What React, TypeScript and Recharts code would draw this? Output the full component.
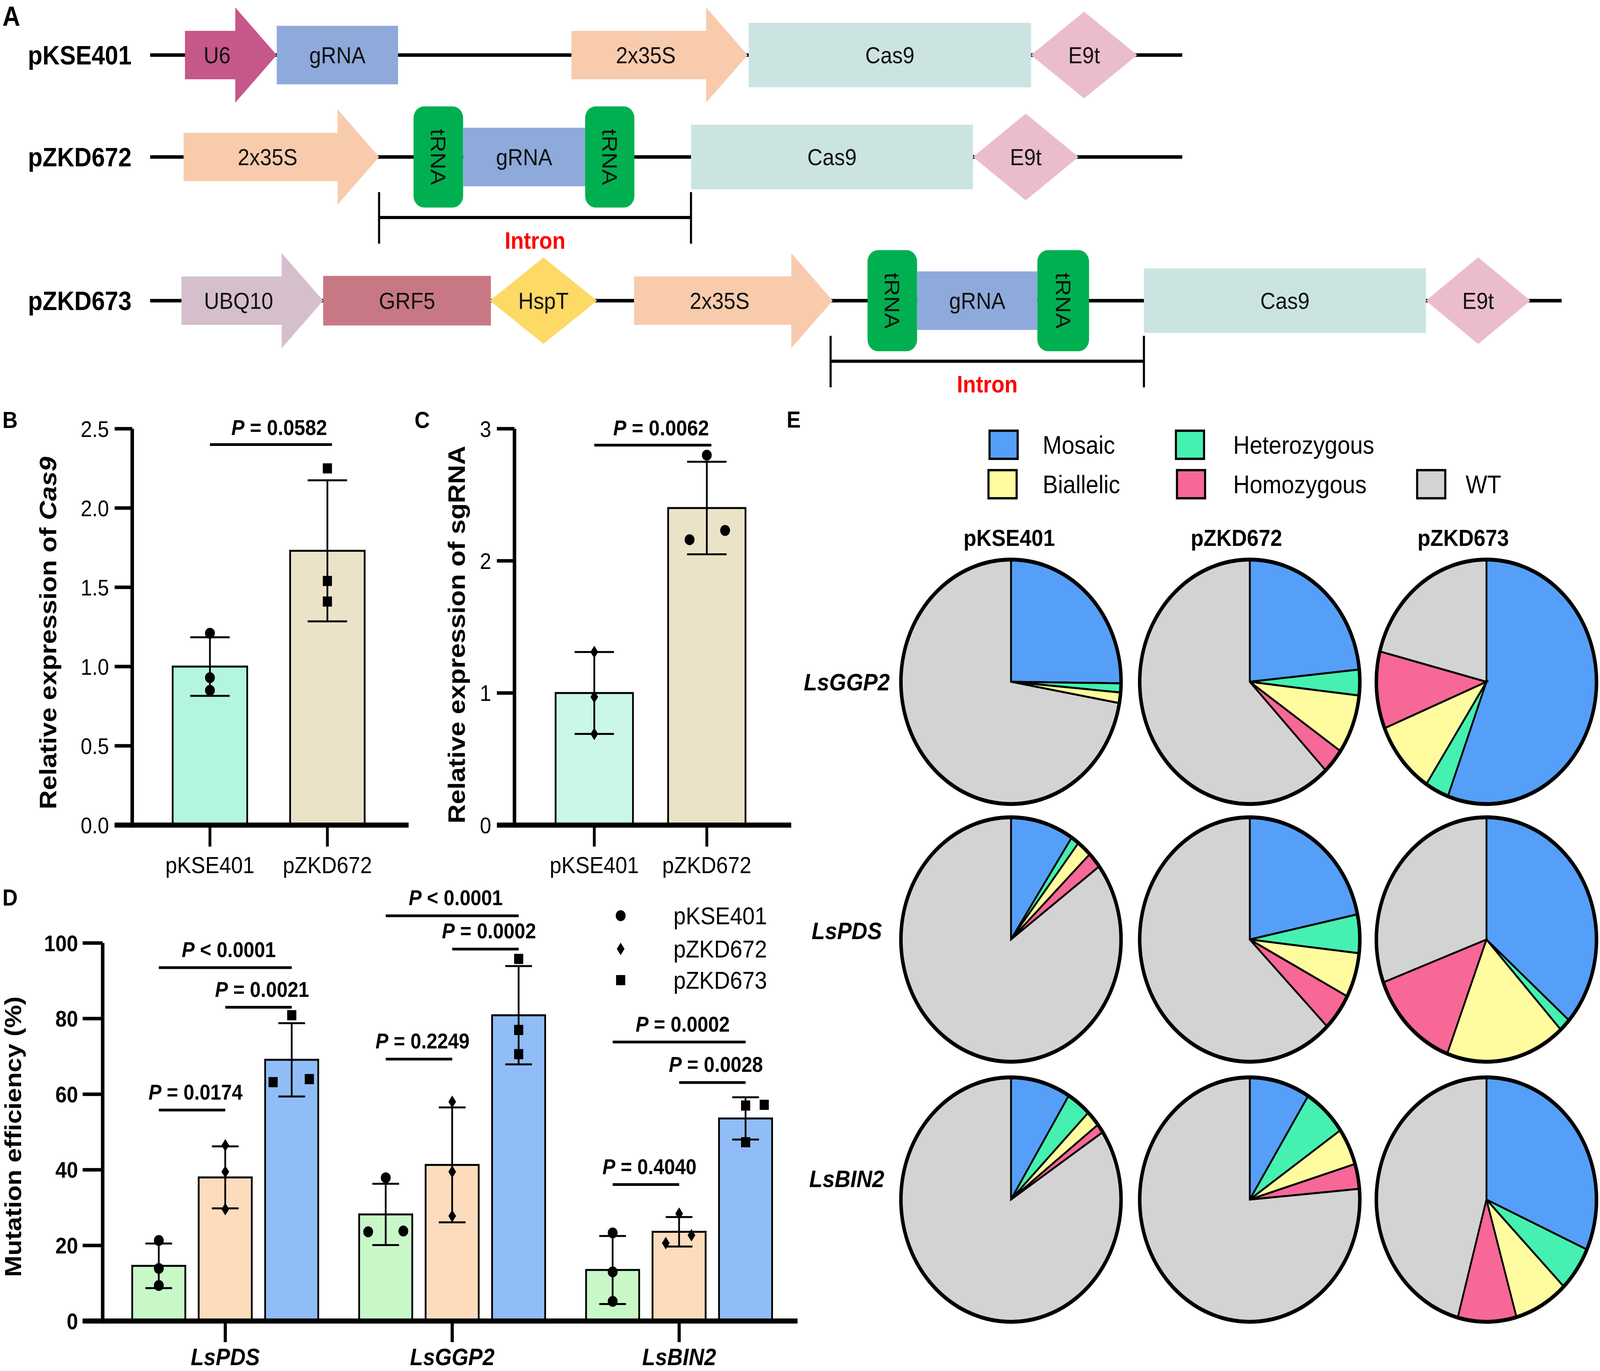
import React from "react";
import {
  ComposedChart,
  Bar,
  Line,
  XAxis,
  YAxis,
  ErrorBar,
  Scatter,
  Cell,
  ReferenceLine,
  ReferenceArea,
  PieChart,
  Pie,
} from "recharts";

const FONT = "Arial, 'Liberation Sans', Helvetica, sans-serif";
const PAGE_W = 4550;
const PAGE_H = 3511;

// ---------- A: vector maps (positions along each construct) ----------
const constructNames = ["pKSE401", "pZKD672", "pZKD673"];
const constructLengths = [2935, 2935, 4014];
const pKSE401Parts: [string, number, number][] = [
  ["U6", 99, 360],
  ["gRNA", 360, 705],
  ["2x35S", 1198, 1699],
  ["Cas9", 1702, 2505],
  ["E9t", 2505, 2807],
];
const pZKD672Parts: [string, number, number][] = [
  ["2x35S", 95, 651],
  ["tRNA", 749, 890],
  ["gRNA", 890, 1237],
  ["tRNA", 1237, 1377],
  ["Cas9", 1538, 2340],
  ["E9t", 2340, 2640],
];
const pZKD673Parts: [string, number, number][] = [
  ["UBQ10", 89, 492],
  ["GRF5", 492, 969],
  ["HspT", 966, 1271],
  ["2x35S", 1376, 1941],
  ["tRNA", 2040, 2181],
  ["gRNA", 2181, 2523],
  ["tRNA", 2523, 2670],
  ["Cas9", 2826, 3628],
  ["E9t", 3628, 3925],
];
const intronSpans: ([number, number] | null)[] = [null, [651, 1538], [1935, 2826]];

// ---------- B / C: qPCR ----------
const exprGroups = ["pKSE401", "pZKD672"];
const cas9Mean = [1.0, 1.73];
const cas9Sd = [0.185, 0.445];
const cas9Rep1 = [1.21, 2.25];
const cas9Rep2 = [0.93, 1.54];
const cas9Rep3 = [0.85, 1.41];
const cas9Ticks = [0, 0.5, 1.0, 1.5, 2.0, 2.5];

const sgMean = [1.0, 2.4];
const sgSd = [0.31, 0.35];
const sgRep1 = [1.31, 2.8];
const sgRep2 = [0.97, 2.16];
const sgRep3 = [0.69, 2.23];
const sgTicks = [0, 1, 2, 3];

// ---------- D: mutation efficiency ----------
const genes = ["LsPDS", "LsGGP2", "LsBIN2"];
const constructs = ["pKSE401", "pZKD672", "pZKD673"];
const mutMean: Record<string, number[]> = {
  pKSE401: [14.6, 28.2, 13.5],
  pZKD672: [38.0, 41.3, 23.6],
  pZKD673: [69.1, 80.9, 53.6],
};
const mutSd: Record<string, number[]> = {
  pKSE401: [5.9, 8.1, 9.0],
  pZKD672: [8.2, 15.2, 3.9],
  pZKD673: [9.7, 13.0, 5.6],
};
const mutRep1: Record<string, number[]> = {
  pKSE401: [21.3, 37.9, 23.3],
  pZKD672: [46.5, 58.0, 28.4],
  pZKD673: [80.9, 95.8, 57.0],
};
const mutRep2: Record<string, number[]> = {
  pKSE401: [13.9, 23.6, 13.0],
  pZKD672: [39.5, 39.5, 20.6],
  pZKD673: [63.2, 77.0, 57.2],
};
const mutRep3: Record<string, number[]> = {
  pKSE401: [9.4, 23.8, 5.2],
  pZKD672: [29.6, 27.8, 22.7],
  pZKD673: [64.0, 70.6, 47.3],
};
const mutTicks = [0, 20, 40, 60, 80, 100];
// [gene, from construct, to construct, y, p text]
const mutPvals: [string, number, number, number, string][] = [
  ["LsPDS", 0, 2, 93.5, "< 0.0001"],
  ["LsPDS", 1, 2, 83.0, "= 0.0021"],
  ["LsPDS", 0, 1, 55.8, "= 0.0174"],
  ["LsGGP2", 0, 2, 107.2, "< 0.0001"],
  ["LsGGP2", 1, 2, 98.4, "= 0.0002"],
  ["LsGGP2", 0, 1, 69.3, "= 0.2249"],
  ["LsBIN2", 0, 2, 73.8, "= 0.0002"],
  ["LsBIN2", 1, 2, 63.1, "= 0.0028"],
  ["LsBIN2", 0, 1, 36.1, "= 0.4040"],
];

// ---------- E: genotype shares (%) ----------
const genotypeNames = ["Mosaic", "Heterozygous", "Biallelic", "Homozygous", "WT"];
const pieGenes = ["LsGGP2", "LsPDS", "LsBIN2"];
const ggp2_pKSE401 = [25.2, 1.2, 1.4, 0, 72.2];
const ggp2_pZKD672 = [23.4, 3.4, 7.8, 3.3, 62.1];
const ggp2_pZKD673 = [55.7, 3.5, 9.6, 10.2, 21.0];
const pds_pKSE401 = [9.3, 1.2, 2.2, 2.1, 85.2];
const pds_pZKD672 = [21.7, 5.1, 5.9, 4.9, 62.4];
const pds_pZKD673 = [36.5, 1.7, 17.6, 13.5, 30.7];
const bin2_pKSE401 = [8.8, 3.6, 2.1, 1.2, 84.3];
const bin2_pZKD672 = [8.9, 6.5, 4.9, 3.3, 76.4];
const bin2_pZKD673 = [31.7, 5.9, 8.0, 8.6, 45.8];
const pieTable = [
  [ggp2_pKSE401, ggp2_pZKD672, ggp2_pZKD673],
  [pds_pKSE401, pds_pZKD672, pds_pZKD673],
  [bin2_pKSE401, bin2_pZKD672, bin2_pZKD673],
];

// ---------- styles ----------
const partStyle: Record<string, { shape: string; fill: string; h: number }> = {
  U6: { shape: "arrow", fill: "#c5578a", h: 244 },
  "2x35S": { shape: "arrow", fill: "#f8cbad", h: 244 },
  UBQ10: { shape: "arrow", fill: "#d5bfcd", h: 244 },
  gRNA: { shape: "box", fill: "#8eaadb", h: 150 },
  Cas9: { shape: "box", fill: "#cbe4e2", h: 165 },
  GRF5: { shape: "box", fill: "#c87884", h: 127 },
  E9t: { shape: "diamond", fill: "#ebbccc", h: 222 },
  HspT: { shape: "diamond", fill: "#fdd966", h: 221 },
  tRNA: { shape: "trna", fill: "#00b050", h: 259 },
};
const trackLayout = [
  { top: 0, height: 282 },
  { top: 142, height: 520 },
  { top: 520, height: 500 },
];
const genotypeColors: Record<string, string> = {
  Mosaic: "#559ff8",
  Heterozygous: "#45f0b0",
  Biallelic: "#fffca0",
  Homozygous: "#f76896",
  WT: "#d3d3d3",
};
const mutColors: Record<string, string> = {
  pKSE401: "#c8f8c8",
  pZKD672: "#fcdcbc",
  pZKD673: "#90bdf7",
};
const mutMarkers: Record<string, string> = {
  pKSE401: "circle",
  pZKD672: "diamond",
  pZKD673: "square",
};
// horizontal jitter (px) of replicate dots
const mutJitter: Record<string, number[][]> = {
  pKSE401: [[0, 0, 0], [0, -50, 50], [0, 0, 0]],
  pZKD672: [[0, 0, 0], [0, 0, 0], [0, -38, 35]],
  pZKD673: [[0, -53, 50], [0, 0, 0], [0, 53, 0]],
};
const BAR_PITCH = 189;

function Marker({ cx, cy, kind }: { cx: number; cy: number; kind: string }) {
  if (cx == null || cy == null || isNaN(cx) || isNaN(cy)) return null;
  if (kind === "square")
    return <rect x={cx - 13} y={cy - 13} width={26} height={26} fill="#000" />;
  if (kind === "diamond")
    return (
      <polygon
        points={`${cx},${cy - 16} ${cx + 11},${cy} ${cx},${cy + 16} ${cx - 11},${cy}`}
        fill="#000"
      />
    );
  return <circle cx={cx} cy={cy} r={14} fill="#000" />;
}

function PText({ x, y, text, size }: { x: number; y: number; text: string; size: number }) {
  return (
    <text x={x} y={y} textAnchor="middle" fontSize={size} fontWeight={700} fill="#000">
      <tspan fontStyle="italic">P</tspan>
      <tspan>{" " + text}</tspan>
    </text>
  );
}

// x axis line continues left to where the y ticks start
const axisStub = (len: number) => (p: any) => (
  <line x1={p.x1 - len} y1={p.y1} x2={p.x1 + 5} y2={p.y1} stroke="#000" strokeWidth={13} />
);

// ---------- A ----------
function drawPart(p: any, name: string) {
  const st = partStyle[name];
  const { x, width } = p;
  const cy = p.y + p.height / 2;
  const label = (tx: number) => (
    <text x={tx} y={cy} dy="0.35em" textAnchor="middle" fontSize={60} fill="#111">
      {name}
    </text>
  );
  if (st.shape === "arrow") {
    const head = 118;
    const body = 124;
    const hx = x + width - head;
    const pts = [
      [x, cy - body / 2],
      [hx, cy - body / 2],
      [hx, cy - st.h / 2],
      [x + width, cy],
      [hx, cy + st.h / 2],
      [hx, cy + body / 2],
      [x, cy + body / 2],
    ]
      .map((q) => q.join(","))
      .join(" ");
    return (
      <g>
        <polygon points={pts} fill={st.fill} />
        {label(x + (width - head) / 2 + 20)}
      </g>
    );
  }
  if (st.shape === "diamond") {
    const pts = `${x},${cy} ${x + width / 2},${cy - st.h / 2} ${x + width},${cy} ${x + width / 2},${cy + st.h / 2}`;
    return (
      <g>
        <polygon points={pts} fill={st.fill} />
        {label(x + width / 2)}
      </g>
    );
  }
  if (st.shape === "trna") {
    const mx = x + width / 2;
    return (
      <g>
        <rect x={x} y={cy - st.h / 2} width={width} height={st.h} rx={30} fill={st.fill} />
        <text
          x={mx}
          y={cy}
          dy="0.35em"
          textAnchor="middle"
          fontSize={60}
          fill="#111"
          transform={`rotate(90 ${mx} ${cy})`}
        >
          tRNA
        </text>
      </g>
    );
  }
  return (
    <g>
      <rect x={x} y={cy - st.h / 2} width={width} height={st.h} fill={st.fill} />
      {label(x + width / 2)}
    </g>
  );
}

function drawIntron(p: any) {
  const { x, width } = p;
  const cy = p.y + p.height / 2;
  return (
    <g>
      <line x1={x} y1={cy + 155} x2={x + width} y2={cy + 155} stroke="#000" strokeWidth={8} />
      <line x1={x} y1={cy + 90} x2={x} y2={cy + 222} stroke="#000" strokeWidth={6} />
      <line x1={x + width} y1={cy + 90} x2={x + width} y2={cy + 222} stroke="#000" strokeWidth={6} />
      <text x={x + width / 2} y={cy + 235} textAnchor="middle" fontSize={61} fontWeight={700} fill="#ff0000">
        Intron
      </text>
    </g>
  );
}

function ConstructTrack({ idx }: { idx: number }) {
  const name = constructNames[idx];
  const parts = [pKSE401Parts, pZKD672Parts, pZKD673Parts][idx];
  const len = constructLengths[idx];
  const intron = intronSpans[idx];
  const lay = trackLayout[idx];
  const data = [
    { pos: 0, y: 0 },
    { pos: len, y: 0 },
  ];
  return (
    <div style={{ position: "absolute", left: 0, top: lay.top }}>
      <ComposedChart
        width={PAGE_W}
        height={lay.height}
        margin={{ top: 0, right: 0, bottom: 0, left: 0 }}
        data={data}
      >
        <XAxis type="number" dataKey="pos" domain={[0, 4123]} hide />
        <YAxis
          type="number"
          domain={[-1, 1]}
          ticks={[0]}
          width={427}
          axisLine={false}
          tickLine={false}
          tickSize={0}
          tickMargin={53}
          tickFormatter={() => name}
          tick={{ fontSize: 68, fontWeight: 700, fill: "#000" }}
        />
        <Line dataKey="y" stroke="transparent" dot={false} activeDot={false} isAnimationActive={false} />
        <ReferenceArea
          x1={0}
          x2={len}
          y1={-1}
          y2={1}
          ifOverflow="visible"
          shape={(p: any) => (
            <rect x={p.x} y={p.y + p.height / 2 - 4.5} width={p.width} height={9} fill="#000" />
          )}
        />
        {parts.map(([pn, s, e], i) => (
          <ReferenceArea
            key={i}
            x1={s}
            x2={e}
            y1={-1}
            y2={1}
            ifOverflow="visible"
            shape={(p: any) => drawPart(p, pn)}
          />
        ))}
        {intron && (
          <ReferenceArea
            x1={intron[0]}
            x2={intron[1]}
            y1={-1}
            y2={1}
            ifOverflow="visible"
            shape={(p: any) => drawIntron(p)}
          />
        )}
      </ComposedChart>
    </div>
  );
}

// ---------- B / C ----------
function ExpressionChart(cfg: any) {
  const data = exprGroups.map((g, i) => ({
    name: g,
    mean: cfg.mean[i],
    sd: cfg.sd[i],
    r1: cfg.reps[0][i],
    r2: cfg.reps[1][i],
    r3: cfg.reps[2][i],
  }));
  return (
    <div style={{ position: "absolute", left: cfg.left, top: 1000 }}>
      <ComposedChart
        width={cfg.width}
        height={1300}
        data={data}
        margin={{ top: 98, right: cfg.right, bottom: 0, left: 0 }}
      >
        <XAxis
          dataKey="name"
          height={187}
          padding={cfg.padding}
          stroke="#000"
          axisLine={{ stroke: "#000", strokeWidth: 13 }}
          tickLine={{ stroke: "#000", strokeWidth: 8 }}
          tickSize={55}
          tickMargin={25}
          tick={{ fontSize: 60, fill: "#000" }}
        />
        <YAxis
          width={cfg.axisW}
          domain={cfg.domain}
          ticks={cfg.ticks}
          tickFormatter={cfg.fmt}
          stroke="#000"
          axisLine={{ stroke: "#000", strokeWidth: 10 }}
          tickLine={{ stroke: "#000", strokeWidth: 9 }}
          tickSize={50}
          tickMargin={16}
          tick={{ fontSize: 58, fill: "#000" }}
          label={() => (
            <text
              x={cfg.titleX}
              y={cfg.titleY}
              transform={`rotate(-90 ${cfg.titleX} ${cfg.titleY})`}
              textAnchor="middle"
              dy="0.35em"
              fontSize={68}
              fontWeight={700}
              fill="#000"
            >
              <tspan>Relative expression of </tspan>
              <tspan fontStyle={cfg.titleItalic ? "italic" : "normal"}>{cfg.titleEnd}</tspan>
            </text>
          )}
        />
        <ReferenceLine y={0} ifOverflow="visible" shape={axisStub(50)} />
        <Bar dataKey="mean" barSize={cfg.barSize} stroke="#000" strokeWidth={5} isAnimationActive={false}>
          {data.map((d, i) => (
            <Cell key={d.name} fill={cfg.fills[i]} />
          ))}
          <ErrorBar dataKey="sd" width={56} stroke="#000" strokeWidth={5} />
        </Bar>
        {["r1", "r2", "r3"].map((k, ri) => (
          <Scatter
            key={k}
            dataKey={k}
            isAnimationActive={false}
            shape={(p: any) => {
              const gi = exprGroups.indexOf(p.payload.name);
              return <Marker cx={p.cx + cfg.jitter[gi][ri]} cy={p.cy} kind={cfg.markers[gi]} />;
            }}
          />
        ))}
        <ReferenceLine
          segment={[
            { x: exprGroups[0], y: cfg.pY },
            { x: exprGroups[1], y: cfg.pY },
          ]}
          ifOverflow="visible"
          shape={(p: any) => (
            <g>
              <line x1={p.x1} y1={p.y1} x2={p.x2 + 13} y2={p.y2} stroke="#000" strokeWidth={7} />
              <PText x={(p.x1 + p.x2) / 2 + 30} y={p.y1 - 25} text={cfg.pText} size={56} />
            </g>
          )}
        />
      </ComposedChart>
    </div>
  );
}

// ---------- D ----------
function MutationChart() {
  const data = genes.map((g, gi) => {
    const row: any = { gene: g };
    constructs.forEach((c) => {
      row[c] = mutMean[c][gi];
      row[c + "_sd"] = mutSd[c][gi];
      row[c + "_r1"] = mutRep1[c][gi];
      row[c + "_r2"] = mutRep2[c][gi];
      row[c + "_r3"] = mutRep3[c][gi];
    });
    return row;
  });
  return (
    <div style={{ position: "absolute", left: 0, top: 2150 }}>
      <ComposedChart
        width={2300}
        height={1361}
        data={data}
        barGap={38}
        margin={{ top: 265, right: 32, bottom: 0, left: 0 }}
      >
        <XAxis
          dataKey="gene"
          height={128}
          padding={{ left: 26, right: 14 }}
          stroke="#000"
          axisLine={{ stroke: "#000", strokeWidth: 13 }}
          tickLine={{ stroke: "#000", strokeWidth: 9 }}
          tickSize={54}
          tickMargin={16}
          tick={{ fontSize: 61, fontWeight: 700, fontStyle: "italic", fill: "#000" }}
        />
        <YAxis
          width={292}
          domain={[0, 100]}
          ticks={mutTicks}
          stroke="#000"
          axisLine={{ stroke: "#000", strokeWidth: 10 }}
          tickLine={{ stroke: "#000", strokeWidth: 9 }}
          tickSize={57}
          tickMargin={13}
          tick={{ fontSize: 58, fontWeight: 700, fill: "#000" }}
          label={() => (
            <text
              x={37}
              y={761}
              transform={`rotate(-90 37 761)`}
              textAnchor="middle"
              dy="0.35em"
              fontSize={66}
              fontWeight={700}
              fill="#000"
            >
              Mutation efficiency (%)
            </text>
          )}
        />
        <ReferenceLine y={0} ifOverflow="visible" shape={axisStub(57)} />
        {constructs.map((c) => (
          <Bar
            key={c}
            dataKey={c}
            barSize={151}
            fill={mutColors[c]}
            stroke="#000"
            strokeWidth={5}
            isAnimationActive={false}
          >
            <ErrorBar dataKey={c + "_sd"} width={38} stroke="#000" strokeWidth={5} />
          </Bar>
        ))}
        {constructs.map((c, ci) =>
          ["_r1", "_r2", "_r3"].map((k, ri) => (
            <Scatter
              key={c + k}
              dataKey={c + k}
              isAnimationActive={false}
              shape={(p: any) => {
                const gi = genes.indexOf(p.payload.gene);
                const off = (ci - 1) * BAR_PITCH + mutJitter[c][gi][ri];
                return <Marker cx={p.cx + off} cy={p.cy} kind={mutMarkers[c]} />;
              }}
            />
          ))
        )}
        {mutPvals.map(([g, a, b, y, t], i) => (
          <ReferenceLine
            key={i}
            segment={[
              { x: g, y },
              { x: g, y },
            ]}
            ifOverflow="visible"
            shape={(p: any) => {
              const xa = p.x1 + (a - 1) * BAR_PITCH;
              const xb = p.x1 + (b - 1) * BAR_PITCH;
              return (
                <g>
                  <line x1={xa} y1={p.y1} x2={xb} y2={p.y1} stroke="#000" strokeWidth={7} />
                  <PText x={(xa + xb) / 2 + 10} y={p.y1 - 27} text={t} size={55} />
                </g>
              );
            }}
          />
        ))}
      </ComposedChart>
    </div>
  );
}

// ---------- E ----------
const pieCx = [675, 1354, 2027];
const pieCy = [746, 1406, 2072];

function GenotypePies() {
  return (
    <div style={{ position: "absolute", left: 2200, top: 1000 }}>
      <PieChart width={2350} height={2500} margin={{ top: 0, right: 0, bottom: 0, left: 0 }}>
        {pieGenes.map((g, r) =>
          constructs.map((c, k) => (
            <Pie
              key={g + c}
              data={genotypeNames.map((n, i) => ({ name: n, value: pieTable[r][k][i] }))}
              dataKey="value"
              cx={pieCx[k]}
              cy={pieCy[r]}
              outerRadius={313}
              startAngle={90}
              endAngle={-270}
              stroke="#000"
              strokeWidth={5}
              isAnimationActive={false}
            >
              {genotypeNames.map((n) => (
                <Cell key={n} fill={genotypeColors[n]} />
              ))}
            </Pie>
          ))
        )}
        {pieGenes.map((g, r) =>
          constructs.map((c, k) => (
            <Pie
              key={"ring" + g + c}
              data={[{ value: 1 }]}
              dataKey="value"
              cx={pieCx[k]}
              cy={pieCy[r]}
              innerRadius={308}
              outerRadius={318}
              startAngle={90}
              endAngle={-270}
              fill="#000"
              stroke="none"
              isAnimationActive={false}
            />
          ))
        )}
      </PieChart>
    </div>
  );
}

// ---------- text overlay: panel letters, legends, pie headings ----------
const legendPos: Record<string, [number, number, number]> = {
  Mosaic: [2854, 1139, 2965],
  Heterozygous: [3384, 1139, 3507],
  Biallelic: [2851, 1240, 2965],
  Homozygous: [3387, 1240, 3507],
  WT: [4070, 1240, 4168],
};
const colTitleX = [2870, 3516, 4161];
const rowLabelY = [1746, 2383, 3018];

function Overlay() {
  const letters: [string, number, number, number][] = [
    ["A", 7, 66, 70],
    ["B", 7, 1096, 60],
    ["C", 1179, 1096, 60],
    ["D", 7, 2319, 60],
    ["E", 2237, 1095, 60],
  ];
  return (
    <svg
      width={PAGE_W}
      height={PAGE_H}
      style={{ position: "absolute", left: 0, top: 0, pointerEvents: "none" }}
    >
      {letters.map(([t, x, y, s]) => (
        <text key={t} x={x} y={y} fontSize={s} fontWeight={700} fill="#000">
          {t}
        </text>
      ))}
      {constructs.map((c, i) => {
        const y = [2345, 2430, 2510][i];
        return (
          <g key={c}>
            <Marker cx={1765} cy={y} kind={mutMarkers[c]} />
            <text x={1915} y={y} dy="0.35em" fontSize={63} fill="#000">
              {c}
            </text>
          </g>
        );
      })}
      {genotypeNames.map((n) => {
        const [x, y, tx] = legendPos[n];
        return (
          <g key={n}>
            <rect x={x - 40} y={y - 36} width={80} height={72} fill={genotypeColors[n]} stroke="#000" strokeWidth={6} />
            <text x={tx} y={y} dy="0.35em" fontSize={65} fill="#000">
              {n}
            </text>
          </g>
        );
      })}
      {constructs.map((c, k) => (
        <text key={c} x={colTitleX[k]} y={1377} dy="0.35em" textAnchor="middle" fontSize={60} fontWeight={700} fill="#000">
          {c}
        </text>
      ))}
      {pieGenes.map((g, r) => (
        <text
          key={g}
          x={2408}
          y={rowLabelY[r]}
          dy="0.35em"
          textAnchor="middle"
          fontSize={62}
          fontWeight={700}
          fontStyle="italic"
          fill="#000"
        >
          {g}
        </text>
      ))}
    </svg>
  );
}

// the layout is drawn in reference pixels and fitted to the real viewport
function viewportScale() {
  if (typeof window === "undefined") return [1, 1];
  const vw = document.documentElement.clientWidth || window.innerWidth || PAGE_W;
  const vh = document.documentElement.clientHeight || window.innerHeight || PAGE_H;
  const sx = vw > 0 ? Math.min(1, vw / PAGE_W) : 1;
  const sy = vh > 0 ? Math.min(1, vh / PAGE_H) : 1;
  return [sx, sy];
}

export default function App() {
  const [sx, sy] = viewportScale();
  return (
    <div
      style={{
        position: "absolute",
        left: 0,
        top: 0,
        width: PAGE_W * sx,
        height: PAGE_H * sy,
        overflow: "hidden",
        background: "#fff",
      }}
    >
      <div
        style={{
          position: "absolute",
          left: 0,
          top: 0,
          width: PAGE_W,
          height: PAGE_H,
          background: "#fff",
          fontFamily: FONT,
          transform: `scale(${sx}, ${sy})`,
          transformOrigin: "0 0",
        }}
      >
        {[0, 1, 2].map((i) => (
          <ConstructTrack key={i} idx={i} />
        ))}
        <ExpressionChart
          left={0}
          width={1250}
          right={88}
          axisW={376}
          padding={{ left: 54, right: 64 }}
          barSize={212}
          mean={cas9Mean}
          sd={cas9Sd}
          reps={[cas9Rep1, cas9Rep2, cas9Rep3]}
          domain={[0, 2.5]}
          ticks={cas9Ticks}
          fmt={(v: number) => v.toFixed(1)}
          fills={["#b3f5de", "#ebe3c8"]}
          markers={["circle", "square"]}
          jitter={[
            [0, 0, 0],
            [0, 0, 0],
          ]}
          pY={2.4}
          pText="= 0.0582"
          titleX={136}
          titleY={621}
          titleEnd="Cas9"
          titleItalic={true}
        />
        <ExpressionChart
          left={1100}
          width={1200}
          right={50}
          axisW={363}
          padding={{ left: 67, right: 80 }}
          barSize={220}
          mean={sgMean}
          sd={sgSd}
          reps={[sgRep1, sgRep2, sgRep3]}
          domain={[0, 3]}
          ticks={sgTicks}
          fmt={(v: number) => String(v)}
          fills={["#cbf7e6", "#ebe3c8"]}
          markers={["diamond", "circle"]}
          jitter={[
            [0, 0, 0],
            [0, -49, 52],
          ]}
          pY={2.876}
          pText="= 0.0062"
          titleX={198}
          titleY={625}
          titleEnd="sgRNA"
          titleItalic={false}
        />
        <MutationChart />
        <GenotypePies />
        <Overlay />
      </div>
    </div>
  );
}
